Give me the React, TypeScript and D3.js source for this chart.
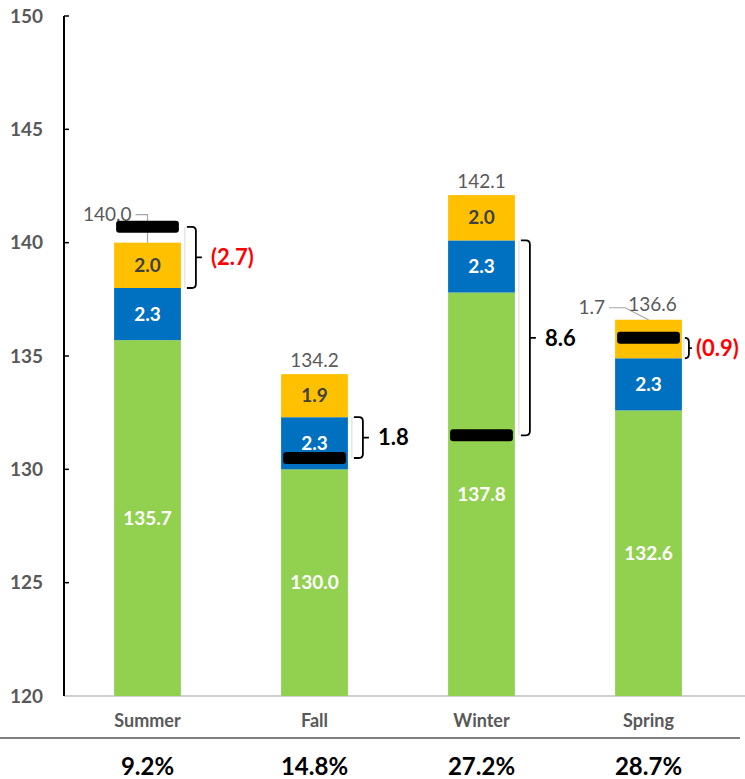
import React from 'react';
import * as d3 from 'd3';

const seasons = ['Summer', 'Fall', 'Winter', 'Spring'];
const baseValues = [135.7, 130.0, 137.8, 132.6];
const midValues = [2.3, 2.3, 2.3, 2.3];
const topValues = [2.0, 1.9, 2.0, 1.7];
const markerValues = [140.7, 130.5, 131.5, 135.8];
const shares = ['9.2%', '14.8%', '27.2%', '28.7%'];
const yTicks = [120, 125, 130, 135, 140, 145, 150];

const GREEN = '#92D050';
const BLUE = '#0070C0';
const YELLOW = '#FFC000';
const GREY = '#595959';
const FONT = 'Lato, "Open Sans", sans-serif';

const width = 745;
const height = 779;
const axisX = 64;

const fmt = (v: number) => v.toFixed(1);

export default function App() {
  const x = d3.scaleBand<string>()
    .domain(seasons)
    .range([axisX, 732])
    .paddingInner(0.6)
    .paddingOuter(0.3);

  const y = d3.scaleLinear().domain([120, 150]).range([696, 16]);
  const bw = x.bandwidth();

  const bars = seasons.map((s, i) => {
    const g = baseValues[i];
    const b = g + midValues[i];
    const t = b + topValues[i];
    return { s, i, g, b, t, m: markerValues[i] };
  });

  return (
    <svg width={width} height={height} style={{ position: 'absolute', left: 0, top: 0, background: '#fff' }}
      fontFamily={FONT}>
      {/* x axis line and separator */}
      <line x1={axisX} x2={width} y1={y(120)} y2={y(120)} stroke="#bfbfbf" strokeWidth={1.5} />
      <line x1={0} x2={740} y1={738} y2={738} stroke="#808080" strokeWidth={2} />

      {bars.map(d => {
        const x0 = x(d.s)!;
        const cx = x0 + bw / 2;
        const right = x0 + bw;
        const markerInTop = d.m > d.b && d.m < d.t;
        const markerAboveTop = d.m >= d.t - 0.3;

        // bracket from base+mid stack top to marker
        const diff = +(d.b - d.m).toFixed(1);
        const yA = y(Math.max(d.b, d.m));
        const yB = y(Math.min(d.b, d.m));
        const bh = yB - yA;
        const big = bh > 30;
        const bwid = big ? 9 : 3;
        const tick = big ? 6 : 3;
        const gap = big ? 9 : 4;
        const bx0 = right + (big ? 6 : 4);
        const bx1 = bx0 + bwid;
        const ym = (yA + yB) / 2;
        const r = Math.min(4, bh / 4);
        const bracketPath = `M${bx0},${yA} H${bx1 - r} Q${bx1},${yA} ${bx1},${yA + r} V${yB - r} Q${bx1},${yB} ${bx1 - r},${yB} H${bx0} M${bx1},${ym} H${bx1 + tick}`;
        const label = diff < 0 ? `(${fmt(-diff)})` : fmt(diff);

        return (
          <g key={d.s}>
            <rect x={x0} width={bw} y={y(d.g)} height={y(120) - y(d.g)} fill={GREEN} />
            <rect x={x0} width={bw} y={y(d.b)} height={y(d.g) - y(d.b)} fill={BLUE} />
            <rect x={x0} width={bw} y={y(d.t)} height={y(d.b) - y(d.t)} fill={YELLOW} />

            <text x={cx} y={(y(d.g) + y(120)) / 2} dy="0.35em" textAnchor="middle" fill="#fff"
              fontSize={19} fontWeight={700}>{fmt(d.g)}</text>
            <text x={cx} y={(y(d.g) + y(d.b)) / 2} dy="0.35em" textAnchor="middle" fill="#fff"
              fontSize={19} fontWeight={700}>{fmt(midValues[d.i])}</text>

            {markerInTop ? (
              <g>
                <text x={x0 - 10} y={y(d.t) - 6} textAnchor="end" fill={GREY} fontSize={19}>{fmt(topValues[d.i])}</text>
                <polyline points={`${x0 - 6},${y(d.t) - 12} ${x0 + 10},${y(d.t) - 12} ${cx},${y(d.t)}`}
                  fill="none" stroke="#a6a6a6" strokeWidth={1.2} />
                <text x={cx + 4} y={y(d.t) - 9} textAnchor="middle" fill={GREY} fontSize={19}>{fmt(d.t)}</text>
              </g>
            ) : (
              <text x={cx} y={(y(d.b) + y(d.t)) / 2} dy="0.35em" textAnchor="middle" fill="#404040"
                fontSize={19} fontWeight={700}>{fmt(topValues[d.i])}</text>
            )}

            {markerAboveTop ? (
              <g>
                <text x={cx - 16} y={y(d.t) - 28} dy="0.35em" textAnchor="end" fill={GREY} fontSize={19}>{fmt(d.t)}</text>
                <polyline points={`${cx - 12},${y(d.t) - 28} ${cx},${y(d.t) - 28} ${cx},${y(d.t)}`}
                  fill="none" stroke="#a6a6a6" strokeWidth={1.2} />
              </g>
            ) : !markerInTop && (
              <text x={cx} y={y(d.t) - 7} textAnchor="middle" fill={GREY} fontSize={19}>{fmt(d.t)}</text>
            )}

            <rect x={x0 + 2} width={bw - 4} y={y(d.m) - 6} height={12} rx={3} fill="#000" />

            <line x1={bx0 - 2} x2={bx0 - 2} y1={yA} y2={yB} stroke="#d9d9d9" strokeWidth={1} />
            <path d={bracketPath} fill="none" stroke="#000" strokeWidth={1.8} />
            <text x={bx1 + tick + gap} y={ym} dy="0.35em" fill={diff < 0 ? '#FF0000' : '#000'}
              fontSize={22} fontWeight={700}>{label}</text>

            <text x={cx} y={727} textAnchor="middle" fill={GREY} fontSize={18} fontWeight={700}>{d.s}</text>
            <text x={cx} y={775} textAnchor="middle" fill="#000" fontSize={24} fontWeight={700}>{shares[d.i]}</text>
          </g>
        );
      })}

      {/* y axis */}
      <line x1={axisX} x2={axisX} y1={y(150)} y2={y(120)} stroke="#000" strokeWidth={2} />
      {yTicks.map(t => (
        <g key={t}>
          {t !== 120 && <line x1={axisX} x2={axisX + 5} y1={y(t)} y2={y(t)} stroke="#000" strokeWidth={1.5} />}
          <text x={43} y={y(t)} dy="0.35em" textAnchor="end" fill={GREY} fontSize={19} fontWeight={700}>{t}</text>
        </g>
      ))}
    </svg>
  );
}
